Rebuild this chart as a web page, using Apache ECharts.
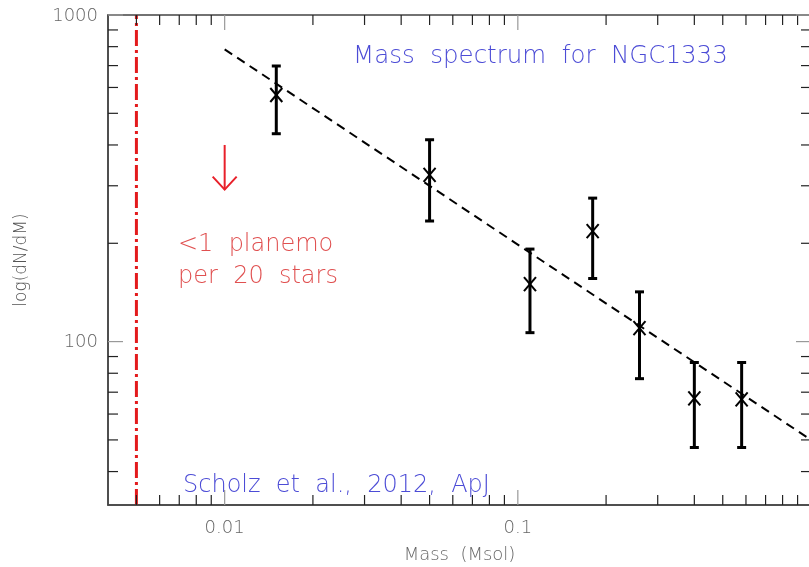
<!DOCTYPE html>
<html><head><meta charset="utf-8">
<script src="https://cdn.jsdelivr.net/npm/echarts@6/dist/echarts.min.js"></script>
<style>html,body{margin:0;padding:0;background:#fff}#c{width:809px;height:567px}</style>
</head><body><div id="c"></div>
<script>
// ---- data ----
const massValues = [0.015, 0.05, 0.11, 0.18, 0.26, 0.40, 0.58];
const dNdM       = [569, 324, 150, 218, 110, 67, 66.5];
const errLow     = [433, 234, 106.5, 156, 77, 47.4, 47.4];
const errHigh    = [698, 415, 192, 275, 142, 86.3, 86.3];
const fitMass = [0.01, 1];
const fitN    = [785, 50];
const limitMass = 0.005;
const arrowMass = 0.01, arrowTop = 400, arrowBottom = 292;
const xMajorTicks = [0.01, 0.1];
const xTickLabels = ['0.01', '0.1'];
const xMinorTicks = [0.005, 0.006, 0.007, 0.008, 0.009, 0.02, 0.03, 0.04, 0.05, 0.06, 0.07, 0.08, 0.09, 0.2, 0.3, 0.4, 0.5, 0.6, 0.7, 0.8, 0.9];
const yMajorTicks = [100, 1000];
const yTickLabels = ['100', '1000'];
const yMinorTicks = [40, 50, 60, 70, 80, 90, 200, 300, 400, 500, 600, 700, 800, 900];
const xMin = 0.004, xMax = 1, yMin = 31.6, yMax = 1000;

const FONT = '"DejaVu Sans", sans-serif';
const chart = echarts.init(document.getElementById('c'), null, {renderer: 'canvas'});

function xTickItem(params, api) {
  const cs = params.coordSys;
  const x = api.coord([api.value(0), yMin])[0];
  const major = api.value(2) === 1;
  const len = major ? 15 : 10;
  const col = major ? '#999' : '#222';
  const ch = [
    {type: 'line', shape: {x1: x, y1: cs.y + cs.height, x2: x, y2: cs.y + cs.height - len}, style: {stroke: col, lineWidth: 1.2}},
    {type: 'line', shape: {x1: x, y1: cs.y, x2: x, y2: cs.y + len}, style: {stroke: col, lineWidth: 1.2}}
  ];
  if (major) {
    ch.push({type: 'text', style: {text: xTickLabels[api.value(3)], x: x, y: cs.y + cs.height + 23, align: 'center', verticalAlign: 'middle', font: '200 18px ' + FONT, fill: '#666'}});
  }
  return {type: 'group', children: ch};
}
function yTickItem(params, api) {
  const cs = params.coordSys;
  const y = api.coord([xMin, api.value(1)])[1];
  const major = api.value(2) === 1;
  const len = major ? 15 : 10;
  const col = major ? '#999' : '#222';
  const ch = [
    {type: 'line', shape: {x1: cs.x, y1: y, x2: cs.x + len, y2: y}, style: {stroke: col, lineWidth: 1.2}},
    {type: 'line', shape: {x1: cs.x + cs.width, y1: y, x2: cs.x + cs.width - len, y2: y}, style: {stroke: col, lineWidth: 1.2}}
  ];
  if (major) {
    ch.push({type: 'text', style: {text: yTickLabels[api.value(3)], x: cs.x - 10, y: y + 1, align: 'right', verticalAlign: 'middle', font: '200 18px ' + FONT, fill: '#666'}});
  }
  return {type: 'group', children: ch};
}
function errItem(params, api) {
  const m = api.value(0);
  const c = api.coord([m, api.value(1)]);
  const lo = api.coord([m, api.value(2)]);
  const hi = api.coord([m, api.value(3)]);
  const s = {stroke: '#000', lineWidth: 3};
  const s2 = {stroke: '#000', lineWidth: 2};
  return {type: 'group', children: [
    {type: 'line', shape: {x1: c[0], y1: lo[1], x2: c[0], y2: hi[1]}, style: s},
    {type: 'line', shape: {x1: c[0] - 4.5, y1: lo[1], x2: c[0] + 4.5, y2: lo[1]}, style: s},
    {type: 'line', shape: {x1: c[0] - 4.5, y1: hi[1], x2: c[0] + 4.5, y2: hi[1]}, style: s},
    {type: 'line', shape: {x1: c[0] - 6, y1: c[1] - 7, x2: c[0] + 6, y2: c[1] + 7}, style: s2},
    {type: 'line', shape: {x1: c[0] - 6, y1: c[1] + 7, x2: c[0] + 6, y2: c[1] - 7}, style: s2}
  ]};
}
function arrowItem(params, api) {
  const m = api.value(0);
  const t = api.coord([m, api.value(1)]);
  const b = api.coord([m, api.value(2)]);
  const s = {stroke: '#e8202a', lineWidth: 2, fill: null};
  return {type: 'group', children: [
    {type: 'line', shape: {x1: t[0], y1: t[1], x2: b[0], y2: b[1]}, style: s},
    {type: 'polyline', shape: {points: [[b[0] - 12, b[1] - 13], [b[0], b[1]], [b[0] + 12, b[1] - 13]]}, style: s}
  ]};
}

const option = {
  animation: false,
  backgroundColor: '#fff',
  grid: {left: 108, top: 15, width: 703, height: 490, containLabel: false, outerBoundsMode: 'none'},
  xAxis: {type: 'log', logBase: 10, min: xMin, max: xMax,
    axisLine: {show: true, lineStyle: {color: '#444', width: 1.5}},
    axisTick: {show: false}, axisLabel: {show: false}, splitLine: {show: false},
    name: 'Mass  (Msol)', nameLocation: 'middle', nameGap: 41,
    nameTextStyle: {fontFamily: FONT, fontWeight: 200, fontSize: 18, color: '#666'}},
  yAxis: {type: 'log', logBase: 10, min: yMin, max: yMax,
    axisLine: {show: true, lineStyle: {color: '#444', width: 1.5}},
    axisTick: {show: false}, axisLabel: {show: false}, splitLine: {show: false},
    name: 'log(dN/dM)', nameLocation: 'middle', nameGap: 78, nameRotate: 90,
    nameTextStyle: {fontFamily: FONT, fontWeight: 200, fontSize: 17, color: '#555'}},
  graphic: [
    {type: 'rect', shape: {x: 108, y: 15, width: 703, height: 490}, style: {fill: null, stroke: '#444', lineWidth: 1.5}, silent: true, z: 5},
    {type: 'text', x: 353, y: 57, style: {text: 'Mass  spectrum  for  NGC1333', font: '200 24.5px ' + FONT, fill: '#4c4cd6', verticalAlign: 'middle'}},
    {type: 'text', x: 183, y: 486, style: {text: 'Scholz  et  al.,  2012,  ApJ', font: '200 24px ' + FONT, fill: '#4c4cd6', verticalAlign: 'middle'}},
    {type: 'text', x: 178, y: 245, style: {text: '<1  planemo', font: '200 24px ' + FONT, fill: '#e05050', verticalAlign: 'middle'}},
    {type: 'text', x: 178, y: 277, style: {text: 'per  20  stars', font: '200 24px ' + FONT, fill: '#e05050', verticalAlign: 'middle'}}
  ],
  series: [
    {type: 'line', name: 'limit', data: [[limitMass, yMin], [limitMass, yMax]], symbol: 'none',
      lineStyle: {color: '#e31a1c', width: 3, type: [16, 4, 3, 4]}, z: 3},
    {type: 'line', name: 'fit', data: fitMass.map((m, i) => [m, fitN[i]]), symbol: 'none',
      lineStyle: {color: '#000', width: 2, type: [9, 6]}, z: 3},
    {type: 'custom', name: 'errors', renderItem: errItem, clip: false, z: 4,
      data: massValues.map((m, i) => [m, dNdM[i], errLow[i], errHigh[i]])},
    {type: 'custom', name: 'arrow', renderItem: arrowItem, clip: false, z: 4,
      data: [[arrowMass, arrowTop, arrowBottom]]},
    {type: 'custom', name: 'xticks', renderItem: xTickItem, clip: false, z: 6,
      data: xMajorTicks.map((v, i) => [v, yMin, 1, i]).concat(xMinorTicks.map(v => [v, yMin, 0, -1]))},
    {type: 'custom', name: 'yticks', renderItem: yTickItem, clip: false, z: 6,
      data: yMajorTicks.map((v, i) => [xMin, v, 1, i]).concat(yMinorTicks.map(v => [xMin, v, 0, -1]))}
  ]
};
chart.setOption(option);
</script></body></html>
